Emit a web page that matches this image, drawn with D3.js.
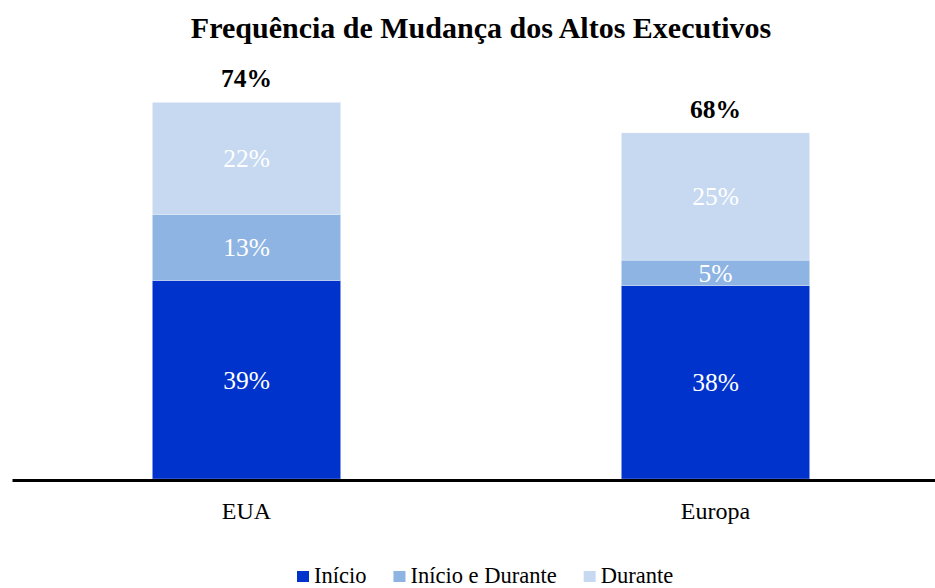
<!DOCTYPE html>
<html>
<head>
<meta charset="utf-8">
<script src="https://cdn.jsdelivr.net/npm/d3@7"></script>
<style>
  html, body { margin: 0; padding: 0; background: #fff; }
  svg { display: block; }
</style>
</head>
<body>
<svg id="chart" width="935" height="588"></svg>
<script>
// ---- data ----
const titleText = "Frequência de Mudança dos Altos Executivos";
const categories = ["EUA", "Europa"];
const seriesNames = ["Início", "Início e Durante", "Durante"];
const inicio = [39, 38];
const inicioDurante = [13, 5];
const durante = [22, 25];
const totals = [74, 68];
const seriesColors = ["#0033CC", "#8EB4E3", "#C6D9F1"];

const FONT = "'Liberation Serif', 'DejaVu Serif', 'Noto Serif', Tinos, 'Times New Roman', Times, serif";

// ---- build table ----
const rows = categories.map((c, i) => ({
  cat: c,
  "Início": inicio[i],
  "Início e Durante": inicioDurante[i],
  "Durante": durante[i],
  total: totals[i]
}));
const stacked = d3.stack().keys(seriesNames)(rows);

const svg = d3.select("#chart");

const x = d3.scaleBand()
  .domain(categories)
  .range([12, 950])
  .paddingInner(0.5983)
  .paddingOuter(0.29915);

const y = d3.scaleLinear().domain([0, 80]).range([479, 71.8]);

const color = d3.scaleOrdinal().domain(seriesNames).range(seriesColors);

// title
svg.append("text")
  .attr("x", 481)
  .attr("y", 38)
  .attr("text-anchor", "middle")
  .style("font-family", FONT)
  .attr("font-size", 30)
  .attr("font-weight", "bold")
  .attr("fill", "#000")
  .text(titleText);

// bars
const layers = svg.append("g").selectAll("g")
  .data(stacked)
  .join("g")
  .attr("fill", d => color(d.key));

layers.selectAll("rect")
  .data(d => d)
  .join("rect")
  .attr("x", d => x(d.data.cat))
  .attr("width", x.bandwidth())
  .attr("y", d => y(d[1]))
  .attr("height", d => y(d[0]) - y(d[1]))
  .attr("stroke", "#fff")
  .attr("stroke-width", 0.6)
  .attr("stroke-opacity", 0.5);

// segment labels
layers.selectAll("text")
  .data(d => d)
  .join("text")
  .attr("x", d => x(d.data.cat) + x.bandwidth() / 2)
  .attr("y", d => (y(d[0]) + y(d[1])) / 2)
  .attr("dy", "0.35em")
  .attr("text-anchor", "middle")
  .style("font-family", FONT)
  .attr("font-size", 25.5)
  .attr("fill", "#fff")
  .text(d => (d[1] - d[0]) + "%");

// totals
svg.append("g").selectAll("text")
  .data(rows)
  .join("text")
  .attr("x", d => x(d.cat) + x.bandwidth() / 2)
  .attr("y", d => y(d.total) - 15)
  .attr("text-anchor", "middle")
  .style("font-family", FONT)
  .attr("font-size", 25.5)
  .attr("font-weight", "bold")
  .attr("fill", "#000")
  .text(d => d.total + "%");

// axis
const axis = svg.append("g")
  .attr("transform", "translate(0,480)")
  .call(d3.axisBottom(x).tickSize(0).tickSizeOuter(0).tickPadding(22));
axis.select(".domain").attr("stroke", "#000").attr("stroke-width", 3);
axis.selectAll(".tick text")
  .style("font-family", FONT)
  .attr("font-size", 24)
  .attr("fill", "#000");

// legend
const legend = svg.append("g");
let lx = 297;
seriesNames.forEach((name, i) => {
  legend.append("rect")
    .attr("x", lx).attr("y", 571)
    .attr("width", 12).attr("height", 11)
    .attr("fill", color(name));
  const t = legend.append("text")
    .attr("x", lx + 17).attr("y", 583)
    .style("font-family", FONT)
    .attr("font-size", 22.5)
    .attr("fill", "#000")
    .text(name);
  lx = lx + 17 + t.node().getComputedTextLength() + 27;
});
</script>
</body>
</html>
